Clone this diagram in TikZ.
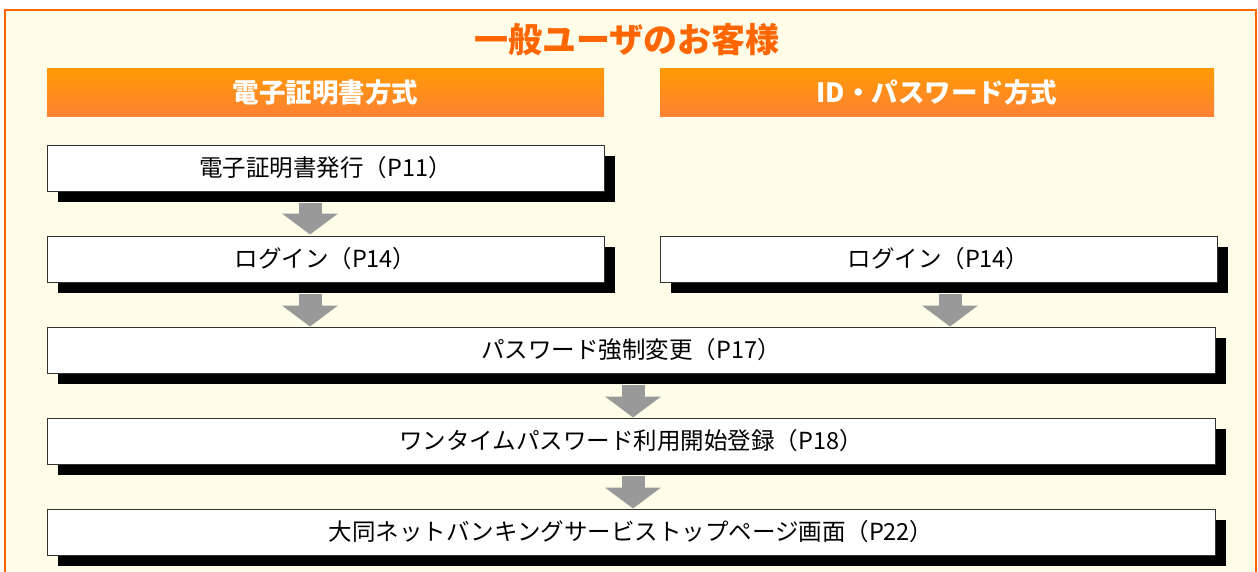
\documentclass[tikz,border=0pt]{standalone}
\usepackage{fontspec}
\setmainfont{Noto Sans CJK JP}
\usetikzlibrary{arrows.meta,shadows}
\definecolor{framecol}{HTML}{FF6600}
\definecolor{creamcol}{HTML}{FFFDE8}
\definecolor{hdrtop}{HTML}{FF9A05}
\definecolor{hdrbot}{HTML}{FF8133}
\definecolor{flowgray}{HTML}{999999}
\tikzset{
	hdr/.style={rectangle, minimum height=48pt, inner sep=0pt, top color=hdrtop, bottom color=hdrbot, text=white, font=\fontsize{26.5}{26.5}\selectfont\bfseries},
	stepbox/.style={rectangle, draw=black!80, line width=1pt, fill=white, minimum height=46pt, inner sep=0pt, font=\fontsize{23.5}{23.5}\selectfont,
		drop shadow={shadow xshift=11pt, shadow yshift=-11pt, fill=black, opacity=1}},
	flow/.style={draw=flowgray, line width=23pt, -{Triangle[width=55pt,length=21pt,flowgray]}}
}
\begin{document}
\begin{tikzpicture}[x=1pt,y=-1pt]
			
			\useasboundingbox (0,0) rectangle (1258,571);
			\draw[framecol, line width=2.5pt, fill=creamcol] (5,10) rectangle (1256,620);
			
			\node[text=framecol, font=\fontsize{34}{34}\selectfont\bfseries] (title) at (627,40) {一般ユーザのお客様};
			
			\begin{scope}
				\node[hdr, minimum width=557pt] (hdrcert) at (325.5,92) {電子証明書方式};
				\node[stepbox, minimum width=557pt] (cert) at (325.5,168) {電子証明書発行（P11）};
				\node[stepbox, minimum width=557pt] (logincert) at (325.5,259) {ログイン（P14）};
			\end{scope}
			
			\begin{scope}
				\node[hdr, minimum width=554pt] (hdrid) at (937,92) {ID・パスワード方式};
				\node[stepbox, minimum width=557pt] (loginid) at (938.5,259) {ログイン（P14）};
			\end{scope}
			
			\node[stepbox, minimum width=1168pt] (pwchange) at (631,350) {パスワード強制変更（P17）};
			\node[stepbox, minimum width=1168pt] (onetime) at (631,441) {ワンタイムパスワード利用開始登録（P18）};
			\node[stepbox, minimum width=1168pt] (toppage) at (631,532) {大同ネットバンキングサービストップページ画面（P22）};
			
			\coordinate (a1) at ([shift={(-15.5,11)}]cert.south);
			\coordinate (a2) at ([shift={(-15.5,11)}]logincert.south);
			\coordinate (a3) at ([shift={(11.5,11)}]loginid.south);
			\coordinate (a4) at ([shift={(2,11)}]pwchange.south);
			\coordinate (a5) at ([shift={(2,11)}]onetime.south);
			\draw[flow] (a1) -- ([yshift=1pt]a1 |- logincert.north);
			\draw[flow] (a2) -- (a2 |- pwchange.north);
			\draw[flow] (a3) -- (a3 |- pwchange.north);
			\draw[flow] (a4) -- (a4 |- onetime.north);
			\draw[flow] (a5) -- (a5 |- toppage.north);
		
		\end{tikzpicture}
\end{document}
